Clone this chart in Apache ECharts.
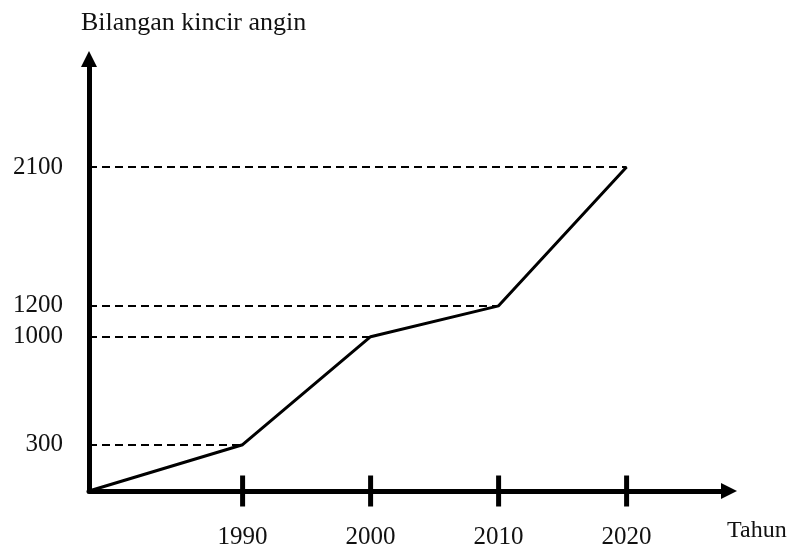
<!DOCTYPE html>
<html>
<head>
<meta charset="utf-8">
<script src="https://cdn.jsdelivr.net/npm/echarts@6/dist/echarts.min.js"></script>
<style>
  html, body { margin: 0; padding: 0; background: #fff; }
  #chart { width: 792px; height: 548px; }
</style>
</head>
<body>
<div id="chart"></div>
<script>
// ---- Data ----
const startYear = 1978;                       // year at the origin of the chart
const years = [1978, 1990, 2000, 2010, 2020];
const counts = [0, 300, 1000, 1200, 2100];
const xTickYears = [1990, 2000, 2010, 2020];
const yTickValues = [300, 1000, 1200, 2100];
const yAxisTitle = 'Bilangan kincir angin';
const xAxisTitle = 'Tahun';

// ---- Chart ----
const FONT = 'Liberation Serif';
const FS = 25;
const chart = echarts.init(document.getElementById('chart'), null, { renderer: 'canvas' });

const lineData = years.map((y, i) => [y, counts[i]]);
const guideLines = yTickValues.map(v => {
  const i = counts.indexOf(v);
  return [{ coord: [startYear, v] }, { coord: [years[i], v] }];
});

chart.setOption({
  animation: false,
  backgroundColor: '#fff',
  title: {
    text: yAxisTitle,
    left: 81,
    top: 10,
    padding: 0,
    textStyle: { fontFamily: FONT, fontSize: 26, fontWeight: 'normal', color: '#111' }
  },
  grid: { left: 89, right: 63, top: 59, bottom: 57, containLabel: false, outerBoundsMode: 'none' },
  xAxis: {
    type: 'value',
    min: startYear,
    max: 2028,
    name: xAxisTitle,
    nameLocation: 'end',
    nameGap: -2,
    nameTextStyle: {
      fontFamily: FONT, fontSize: FS - 1, color: '#111',
      align: 'left', verticalAlign: 'top', padding: [28, 0, 0, 0]
    },
    splitLine: { show: false },
    axisTick: { show: false },
    axisLine: {
      show: true,
      symbol: ['none', 'triangle'],
      symbolSize: [16, 16],
      lineStyle: { color: '#000', width: 5 }
    },
    axisLabel: {
      customValues: xTickYears,
      formatter: v => String(v),
      margin: 34,
      fontFamily: FONT, fontSize: FS, color: '#111'
    }
  },
  yAxis: {
    type: 'value',
    min: 0,
    max: 2800,
    splitLine: { show: false },
    axisTick: { show: false },
    axisLine: {
      show: true,
      symbol: ['none', 'triangle'],
      symbolSize: [16, 16],
      lineStyle: { color: '#000', width: 5 }
    },
    axisLabel: {
      customValues: yTickValues,
      formatter: v => String(v),
      margin: 26,
      fontFamily: FONT, fontSize: FS, color: '#111'
    }
  },
  series: [
    {
      type: 'line',
      data: lineData,
      symbol: 'none',
      lineStyle: { color: '#000', width: 3 },
      z: 5,
      markLine: {
        silent: true,
        symbol: ['none', 'none'],
        label: { show: false },
        lineStyle: { color: '#000', width: 2, type: [8, 5] },
        data: guideLines
      }
    },
    {
      type: 'scatter',
      data: xTickYears.map(y => [y, 0]),
      symbol: 'rect',
      symbolSize: [5, 31],
      clip: false,
      silent: true,
      itemStyle: { color: '#000', opacity: 1 },
      z: 6
    }
  ]
});
</script>
</body>
</html>
